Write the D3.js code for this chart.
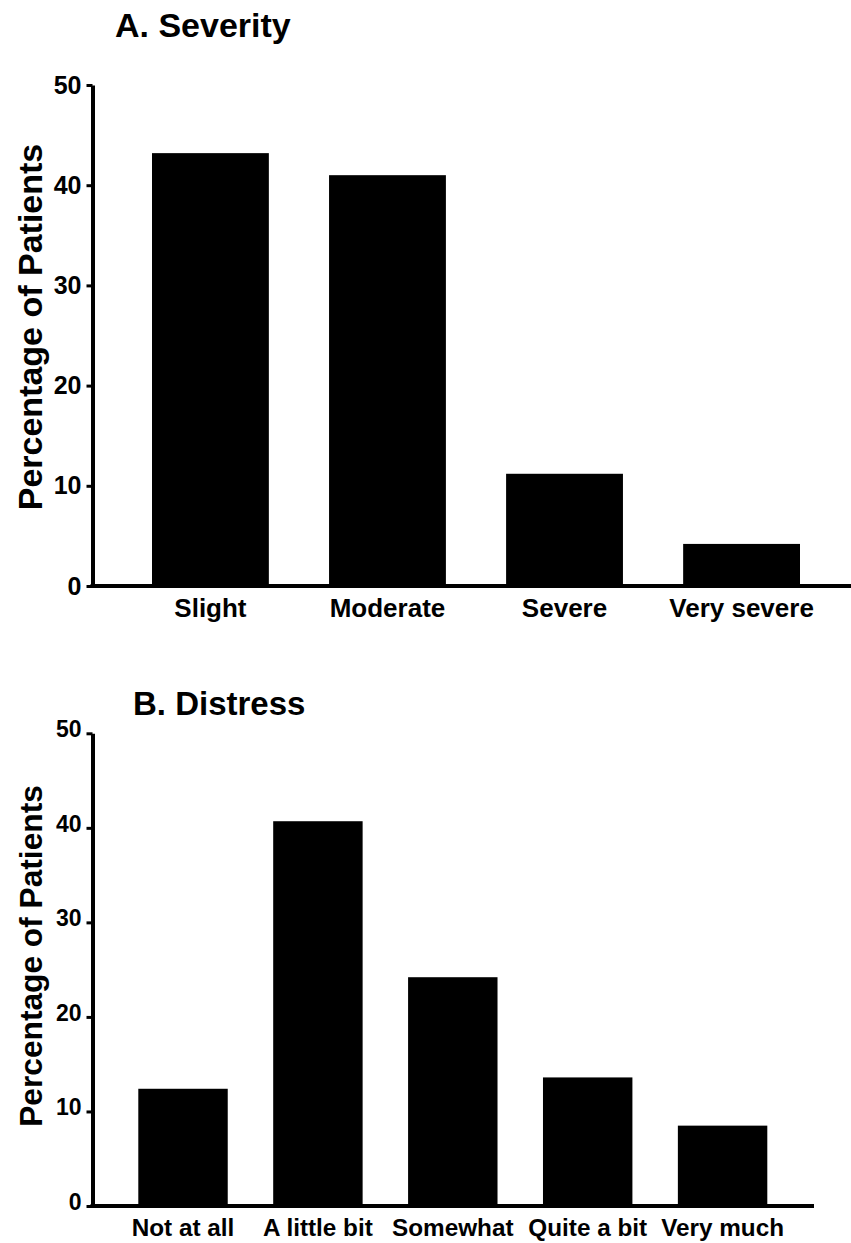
<!DOCTYPE html>
<html>
<head>
<meta charset="utf-8">
<script src="https://cdn.jsdelivr.net/npm/d3@7"></script>
<style>
  body { margin: 0; background: #fff; }
  text { font-family: "Liberation Sans", Arial, sans-serif; font-weight: bold; fill: #000; }
</style>
</head>
<body>
<div id="chart"></div>
<script>
const severityCats = ["Slight", "Moderate", "Severe", "Very severe"];
const severityValues = [43.2, 41.0, 11.2, 4.2];

const distressCats = ["Not at all", "A little bit", "Somewhat", "Quite a bit", "Very much"];
const distressValues = [12.4, 40.7, 24.2, 13.6, 8.5];

const yTicks = [0, 10, 20, 30, 40, 50];

const svg = d3.select("#chart").append("svg")
    .attr("width", 851)
    .attr("height", 1243);

function panel(opts) {
    const g = svg.append("g");

    const x = d3.scaleBand()
        .domain(opts.cats)
        .range(opts.xRange)
        .paddingInner(opts.padInner)
        .paddingOuter(0);

    const y = d3.scaleLinear()
        .domain([0, 50])
        .range(opts.yRange);

    // bars
    g.selectAll(".bar")
        .data(opts.values)
        .enter().append("rect")
        .attr("class", "bar")
        .attr("x", (d, i) => x(opts.cats[i]))
        .attr("width", x.bandwidth())
        .attr("y", d => y(d))
        .attr("height", d => y(0) - y(d))
        .attr("fill", "#000");

    // y axis
    const yAxis = g.append("g")
        .attr("transform", `translate(${opts.axisX},0)`)
        .call(d3.axisLeft(y).tickValues(yTicks).tickSize(6).tickSizeOuter(0).tickPadding(opts.yPad));
    yAxis.select(".domain").attr("stroke", "#000").attr("stroke-width", 4);
    yAxis.selectAll(".tick line").attr("stroke", "#000").attr("stroke-width", 3);
    yAxis.selectAll(".tick text")
        .style("font-size", opts.yFont + "px")
        .attr("dy", opts.yDy);

    // x baseline
    g.append("line")
        .attr("x1", opts.axisX - 2)
        .attr("x2", opts.xEnd)
        .attr("y1", y(0))
        .attr("y2", y(0))
        .attr("stroke", "#000")
        .attr("stroke-width", 4);

    // x labels
    const xAxis = g.append("g")
        .attr("transform", `translate(0,${y(0)})`)
        .call(d3.axisBottom(x).tickSize(0).tickPadding(13));
    xAxis.select(".domain").remove();
    xAxis.selectAll(".tick text").style("font-size", opts.xFont + "px");

    // y title
    g.append("text")
        .attr("transform", `translate(${opts.yTitleX},${opts.yTitleY}) rotate(-90)`)
        .attr("text-anchor", "middle")
        .style("font-size", opts.yTitleFont + "px")
        .text("Percentage of Patients");

    // panel title
    g.append("text")
        .attr("x", opts.titleX)
        .attr("y", opts.titleY)
        .style("font-size", opts.titleFont + "px")
        .text(opts.title);
}

panel({
    title: "A. Severity", titleX: 115, titleY: 37, titleFont: 34,
    cats: severityCats, values: severityValues,
    xRange: [152, 800], padInner: 0.34,
    yRange: [586, 85], axisX: 92.5, xEnd: 851,
    yFont: 25, yDy: "0.32em", yPad: 5, xFont: 26,
    yTitleX: 42, yTitleY: 327, yTitleFont: 34
});

panel({
    title: "B. Distress", titleX: 133, titleY: 715, titleFont: 33,
    cats: distressCats, values: distressValues,
    xRange: [138.3, 767.3], padInner: 0.337,
    yRange: [1206, 733.3], axisX: 92.5, xEnd: 814,
    yFont: 23, yDy: "0.14em", yPad: 5, xFont: 24.3,
    yTitleX: 42, yTitleY: 956, yTitleFont: 31.7
});
</script>
</body>
</html>
